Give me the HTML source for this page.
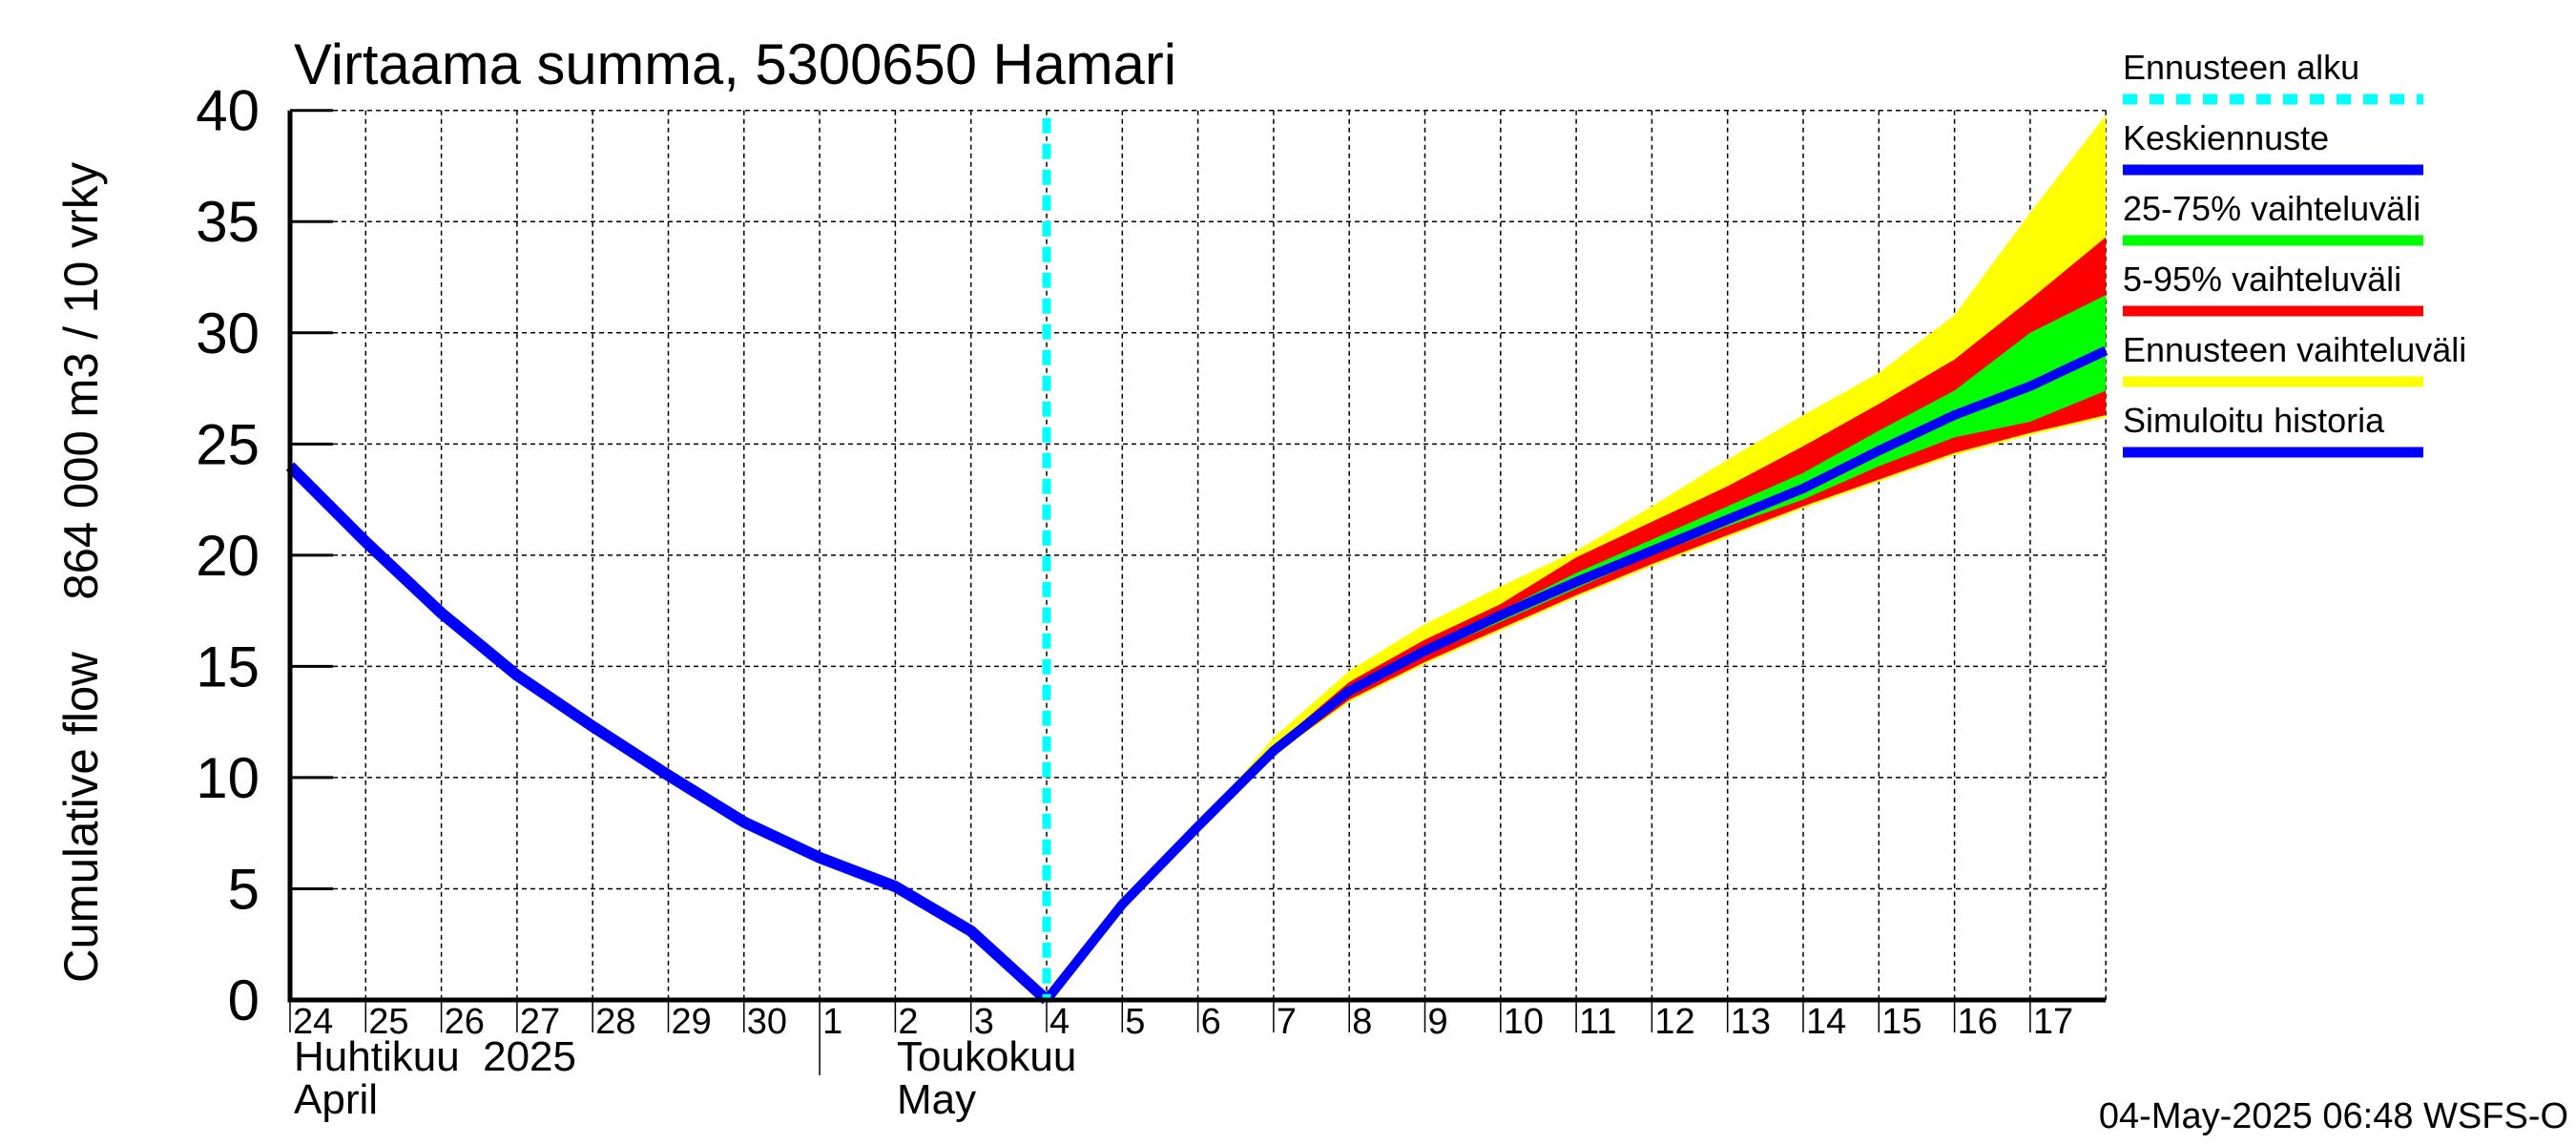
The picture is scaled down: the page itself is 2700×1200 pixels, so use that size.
<!DOCTYPE html>
<html><head><meta charset="utf-8">
<style>
html,body{margin:0;padding:0;background:#fff;}
svg{display:block;font-family:"Liberation Sans",sans-serif;}
</style></head>
<body>
<svg id="chart" width="2700" height="1200" viewBox="0 0 2700 1200" xmlns="http://www.w3.org/2000/svg">
<rect x="0" y="0" width="2700" height="1200" fill="#fff"/>
<text x="308" y="88" font-size="60" textLength="925" lengthAdjust="spacingAndGlyphs">Virtaama summa, 5300650 Hamari</text>
<g id="grid"></g>
<g id="bands"></g>
<g id="lines"></g>
<g id="axes"></g>
<text transform="translate(102,600) rotate(-90)" text-anchor="middle" font-size="50" textLength="860" lengthAdjust="spacingAndGlyphs" xml:space="preserve">Cumulative flow    864 000 m3 / 10 vrky</text>
<text x="308" y="1122" font-size="44" xml:space="preserve">Huhtikuu  2025</text>
<text x="308" y="1167" font-size="44">April</text>
<text x="940" y="1122" font-size="44">Toukokuu</text>
<text x="940" y="1167" font-size="44">May</text>
<text x="2692" y="1182" text-anchor="end" font-size="38">04-May-2025 06:48 WSFS-O</text>
<g id="legend"></g>
</svg>
<script>
const dayLabels = ["24","25","26","27","28","29","30","1","2","3","4","5","6","7","8","9","10","11","12","13","14","15","16","17"];
const yTicks = [0,5,10,15,20,25,30,35,40];
const histDays = [0,1,2,3,4,5,6,7,8,9,10];
const histVals = [24.0,20.6,17.4,14.6,12.3,10.1,8.0,6.4,5.1,3.1,0.0];
const fcDays = [10,11,12,13,14,15,16,17,18,19,20,21,22,23,24];
const median = [0.0,4.3,7.8,11.2,13.9,15.7,17.3,18.8,20.2,21.6,23.0,24.7,26.3,27.6,29.2];
const yellowHi = [0.0,4.3,7.8,11.8,14.8,16.9,18.6,20.2,22.2,24.3,26.3,28.2,30.8,35.4,39.8];
const redHi = [0.0,4.3,7.8,11.4,14.3,16.2,17.8,19.9,21.5,23.1,24.9,26.8,28.8,31.5,34.3];
const greenHi = [0.0,4.3,7.8,11.2,14.0,15.9,17.5,19.2,20.7,22.2,23.7,25.6,27.4,30.0,31.7];
const greenLo = [0.0,4.3,7.8,11.2,13.8,15.5,17.0,18.5,20.0,21.3,22.5,24.0,25.3,26.0,27.4];
const redLo = [0.0,4.3,7.8,11.0,13.5,15.2,16.7,18.2,19.6,20.9,22.2,23.4,24.6,25.5,26.3];
const yellowLo = [0.0,4.3,7.8,11.0,13.4,15.1,16.6,18.1,19.5,20.8,22.1,23.3,24.5,25.4,26.2];
const forecastStartDay = 10;

const X0=304, DX=79.3, Y0=1048, YTOP=115.7, YMAX=40, NDAYS=24;
const xs = d => X0 + d*DX;
const ys = v => Y0 - v*(Y0-YTOP)/YMAX;
const NS="http://www.w3.org/2000/svg";
function mk(tag, parent, attrs){const e=document.createElementNS(NS,tag);for(const k in attrs)e.setAttribute(k,attrs[k]);parent.appendChild(e);return e;}
const grid=document.getElementById('grid'), axes=document.getElementById('axes'), bands=document.getElementById('bands'), lines=document.getElementById('lines'), legend=document.getElementById('legend');
const XR = xs(NDAYS);

yTicks.forEach(v=>{
  const g=mk('line',grid,{x1:X0,x2:XR,y1:ys(v),y2:ys(v),stroke:'#000','stroke-width':1.5,'stroke-dasharray':'5,4'});
  
  
  const t=mk('line',axes,{x1:X0,x2:X0+45,y1:ys(v),y2:ys(v),stroke:'#000','stroke-width':3});
  
  
  const l=mk('text',axes,{x:272,y:ys(v)+21,'text-anchor':'end','font-size':60});
  l.textContent=String(v);
  
  
});
for(let d=1; d<=NDAYS; d++){
  const g=mk('line',grid,{x1:xs(d),x2:xs(d),y1:YTOP,y2:Y0,stroke:'#000','stroke-width':1.5,'stroke-dasharray':'5,4'});
  
  
}
dayLabels.forEach((lab,d)=>{
  const t=mk('line',axes,{x1:xs(d),x2:xs(d),y1:Y0,y2:(d===7?1127:1082),stroke:'#000','stroke-width':1.5});
  
  
  const l=mk('text',axes,{x:xs(d)+3,y:1083,'font-size':38});
  l.textContent=lab;
  
  
});
const ax=mk('path',axes,{d:`M${X0},${YTOP} L${X0},${Y0} L${XR},${Y0}`,fill:'none',stroke:'#000','stroke-width':5});



function band(hi,lo,color,name){
  let d='M'+fcDays.map((dd,i)=>xs(dd)+','+ys(hi[i])).join(' L');
  for(let i=fcDays.length-1;i>=0;i--) d+=' L'+xs(fcDays[i])+','+ys(lo[i]);
  const p=mk('path',bands,{d:d+'Z',fill:color,stroke:'none'});
  
  
}
band(yellowHi,yellowLo,'#ffff00','band-forecast-range');
band(redHi,redLo,'#ff0000','band-5-95');
band(greenHi,greenLo,'#00ff00','band-25-75');

const hist=mk('polyline',lines,{points:histDays.map((d,i)=>xs(d)+','+ys(histVals[i])).join(' '),fill:'none',stroke:'#0000ff','stroke-width':12,'stroke-linejoin':'round'});


const med=mk('polyline',lines,{points:fcDays.map((d,i)=>xs(d)+','+ys(median[i])).join(' '),fill:'none',stroke:'#0000ff','stroke-width':10,'stroke-linejoin':'round'});


const cy=mk('line',lines,{x1:xs(forecastStartDay),x2:xs(forecastStartDay),y1:YTOP+8,y2:Y0,stroke:'#00ffff','stroke-width':9,'stroke-dasharray':'16,11'});



const legItems=[["Ennusteen alku","#00ffff",true],["Keskiennuste","#0000ff",false],["25-75% vaihteluväli","#00ff00",false],["5-95% vaihteluväli","#ff0000",false],["Ennusteen vaihteluväli","#ffff00",false],["Simuloitu historia","#0000ff",false]];
legItems.forEach((it,i)=>{
  const ly=104+i*74;
  const t=mk('text',legend,{x:2225,y:ly-21,'font-size':36});
  t.textContent=it[0];
  
  
  const a={x1:2225,x2:2540,y1:ly,y2:ly,stroke:it[1],'stroke-width':11};
  if(it[2]) a['stroke-dasharray']='15,13';
  const l=mk('line',legend,a);
  
  
});
</script>
</body></html>
